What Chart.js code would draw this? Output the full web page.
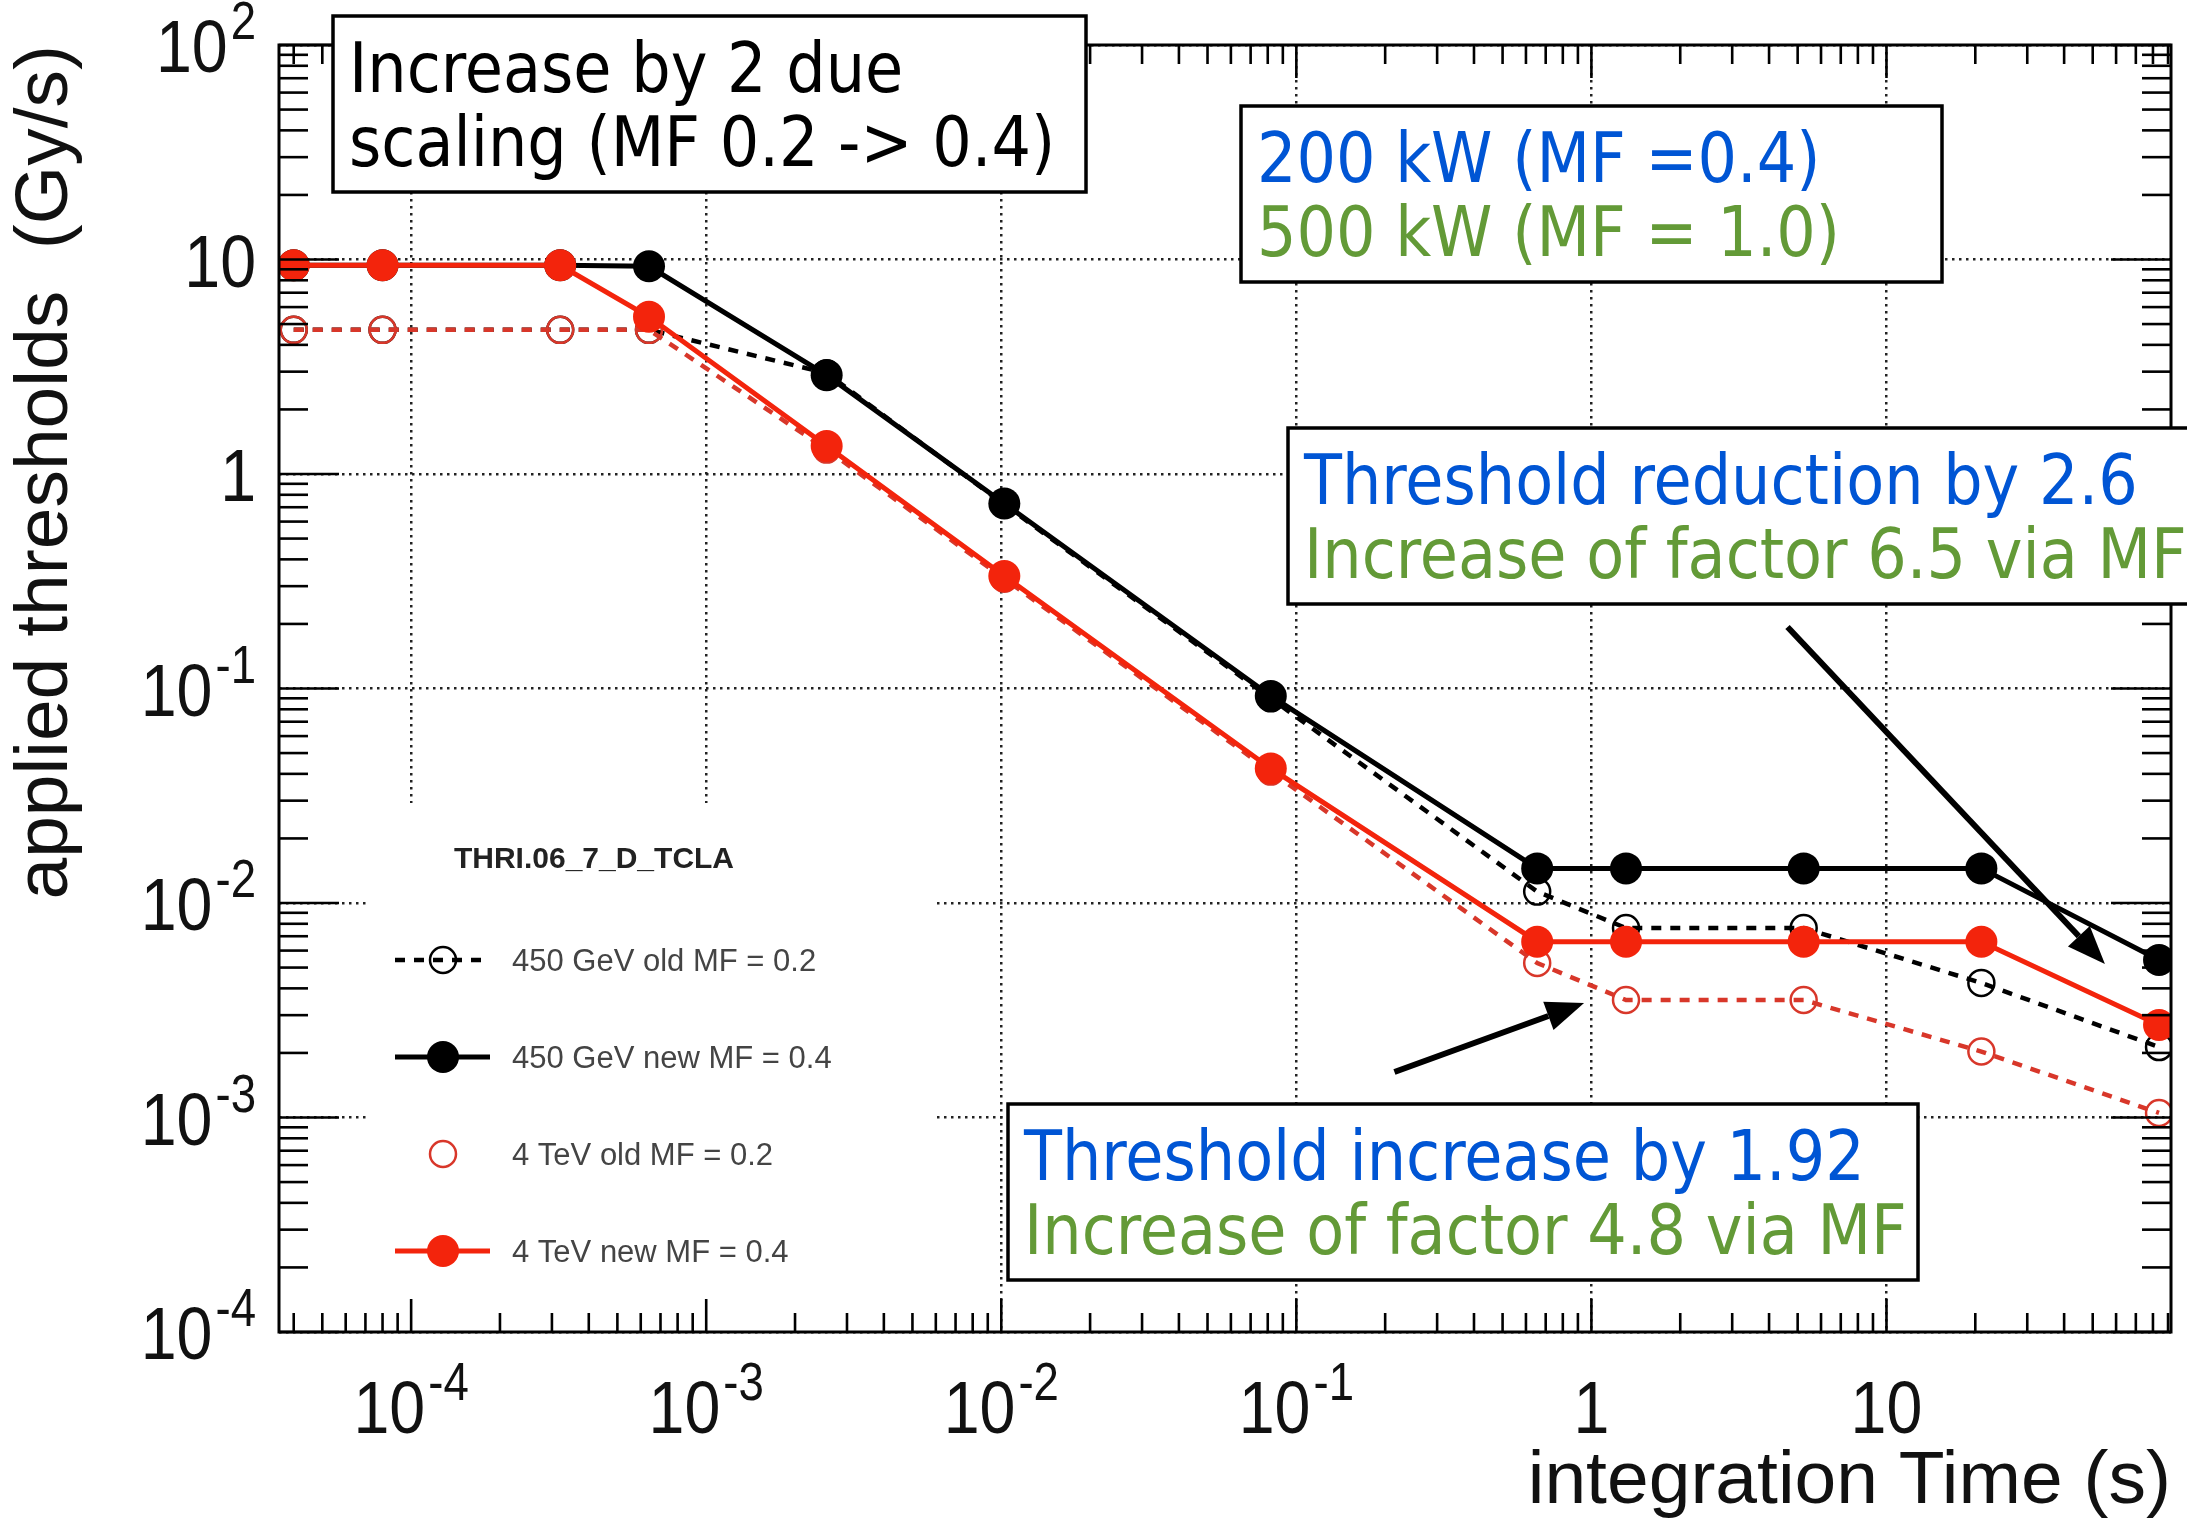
<!DOCTYPE html>
<html>
<head>
<meta charset="utf-8">
<title>THRI.06_7_D_TCLA applied thresholds</title>
<script src="https://cdn.jsdelivr.net/npm/chart.js@4.4.1/dist/chart.umd.min.js"></script>
<style>
  html, body { margin: 0; padding: 0; background: #fff; }
  #plot { display: block; }
</style>
</head>
<body>
<canvas id="plot" width="2187" height="1527"></canvas>
<script>
// running sum integration times (s)
var times = [4e-5, 8e-5, 3.2e-4, 6.4e-4, 2.56e-3, 1.024e-2, 8.192e-2, 0.655, 1.31, 5.24, 20.97, 83.89];

// thresholds in Gy/s
var lowOld  = [4.7, 4.7, 4.7, 4.7, 2.95, 0.72, 0.09, 0.0113, 0.00764, 0.00764, 0.00424, 0.00213];
var lowNew  = [9.4, 9.4, 9.4, 9.3, 2.89, 0.729, 0.0923, 0.0145, 0.0145, 0.0145, 0.0145, 0.00542];
var highOld = [4.7, 4.7, 4.7, 4.7, 1.3, 0.325, 0.041, 0.00525, 0.00353, 0.00353, 0.00203, 0.00105];
var highNew = [9.4, 9.4, 9.4, 5.41, 1.35, 0.3345, 0.0424, 0.0066, 0.0066, 0.0066, 0.0066, 0.0027];

var seriesNames = ['450 GeV old MF = 0.2', '450 GeV new MF = 0.4', '4 TeV old MF = 0.2', '4 TeV new MF = 0.4'];

// axes
var X_MIN = 3.566e-5, X_MAX = 92.1;
var Y_MIN = 1e-4, Y_MAX = 100;
var xDecades = [1e-4, 1e-3, 1e-2, 1e-1, 1, 10];
var xTickLabels = [['10', '-4'], ['10', '-3'], ['10', '-2'], ['10', '-1'], ['1', ''], ['10', '']];
var yDecades = [1e-4, 1e-3, 1e-2, 1e-1, 1, 10, 100];
var yTickLabels = [['10', '-4'], ['10', '-3'], ['10', '-2'], ['10', '-1'], ['1', ''], ['10', ''], ['10', '2']];
var minorSteps = [2, 3, 4, 5, 6, 7, 8, 9];

// arrows, in data coordinates [x1, y1, x2, y2]
var arrows = [
    [4.62, 0.1936, 55.0, 0.0052],
    [0.215, 0.00163, 0.9445, 0.00342]
];

var BLUE = '#0055d4', GREEN = '#639a37';
var boxes = [
    { x: 333, y: 16, w: 753, h: 176, lines: [['Increase by 2 due', '#000'], ['scaling (MF 0.2 -> 0.4)', '#000']] },
    { x: 1241, y: 106, w: 701, h: 176, lines: [['200 kW (MF =0.4)', BLUE], ['500 kW (MF = 1.0)', GREEN]] },
    { x: 1288, y: 428, w: 920, h: 176, lines: [['Threshold reduction by 2.6', BLUE], ['Increase of factor 6.5 via MF', GREEN]] },
    { x: 1008, y: 1104, w: 910, h: 176, lines: [['Threshold increase by 1.92', BLUE], ['Increase of factor 4.8 via MF', GREEN]] }
];

var RED = '#f3240c', RED_OLD = '#d8372a';
var NARROW = 0.86;

function pts(arr) {
    return times.map(function(t, i) { return { x: t, y: arr[i] }; });
}

function line(ctx, x1, y1, x2, y2) {
    ctx.beginPath();
    ctx.moveTo(x1, y1);
    ctx.lineTo(x2, y2);
    ctx.stroke();
}

function allTicks(min, max) {
    var out = [];
    for (var e = Math.floor(Math.log10(min)); e <= Math.ceil(Math.log10(max)); e++) {
        var d = Math.pow(10, e);
        if (d >= min && d <= max) out.push({ v: d, major: true });
        minorSteps.forEach(function(m) {
            if (m * d >= min && m * d <= max) out.push({ v: m * d, major: false });
        });
    }
    return out;
}

// "10" with a superscript, ROOT style
function drawPower(ctx, base, exp, x, y, align) {
    ctx.save();
    ctx.fillStyle = '#111';
    ctx.textAlign = 'left';
    ctx.textBaseline = 'alphabetic';
    ctx.font = '75px "Liberation Sans", Arial, sans-serif';
    var wb = ctx.measureText(base).width * NARROW;
    ctx.font = '53px "Liberation Sans", Arial, sans-serif';
    var we = exp ? ctx.measureText(exp).width * NARROW + 3 : 0;
    var total = wb + we;
    var x0 = align === 'right' ? x - total : x - total / 2;
    ctx.translate(x0, y);
    ctx.scale(NARROW, 1);
    ctx.font = '75px "Liberation Sans", Arial, sans-serif';
    ctx.fillText(base, 0, 0);
    if (exp) {
        ctx.font = '53px "Liberation Sans", Arial, sans-serif';
        ctx.fillText(exp, (wb + 3) / NARROW, -33);
    }
    ctx.restore();
}

var legendBox = { x: 368, y: 803, w: 565, h: 527 };

var rootStyle = {
    id: 'rootStyle',
    beforeDatasetsDraw: function(chart) {
        var ctx = chart.ctx;
        ctx.save();
        ctx.fillStyle = '#fff';
        ctx.fillRect(legendBox.x, legendBox.y, legendBox.w, legendBox.h);
        ctx.restore();
    },
    afterDatasetsDraw: function(chart) {
        var ctx = chart.ctx, a = chart.chartArea;
        var xs = chart.scales.x, ys = chart.scales.y;
        ctx.save();

        // frame + ticks on all four sides
        ctx.strokeStyle = '#000';
        ctx.lineWidth = 3;
        ctx.strokeRect(a.left, a.top, a.right - a.left, a.bottom - a.top);
        ctx.lineWidth = 2.6;
        allTicks(X_MIN, X_MAX).forEach(function(t) {
            var px = xs.getPixelForValue(t.v);
            var len = t.major ? 33 : 19;
            line(ctx, px, a.bottom, px, a.bottom - len);
            line(ctx, px, a.top, px, a.top + len);
        });
        allTicks(Y_MIN, Y_MAX).forEach(function(t) {
            var py = ys.getPixelForValue(t.v);
            var len = t.major ? 60 : 29;
            line(ctx, a.left, py, a.left + len, py);
            line(ctx, a.right, py, a.right - len, py);
        });

        // tick labels
        xDecades.forEach(function(v, i) {
            drawPower(ctx, xTickLabels[i][0], xTickLabels[i][1], xs.getPixelForValue(v), 1433, 'center');
        });
        yDecades.forEach(function(v, i) {
            drawPower(ctx, yTickLabels[i][0], yTickLabels[i][1], 256, ys.getPixelForValue(v) + 27, 'right');
        });

        // legend
        ctx.fillStyle = '#222';
        ctx.textAlign = 'center';
        ctx.textBaseline = 'alphabetic';
        ctx.font = 'bold 30px "Liberation Sans", Arial, sans-serif';
        ctx.fillText('THRI.06_7_D_TCLA', 594, 868);
        chart.data.datasets.forEach(function(ds, i) {
            var cy = 960 + i * 97;
            ctx.save();
            if (ds.legendLine !== false) {
                ctx.strokeStyle = ds.borderColor;
                ctx.lineWidth = ds.borderWidth;
                ctx.setLineDash(ds.borderDash || []);
                line(ctx, 395, cy, 490, cy);
            }
            ctx.setLineDash([]);
            ctx.beginPath();
            ctx.arc(443, cy, ds.pointRadius, 0, Math.PI * 2);
            if (ds.pointBackgroundColor !== 'rgba(0,0,0,0)') {
                ctx.fillStyle = ds.pointBackgroundColor;
                ctx.fill();
            } else {
                ctx.strokeStyle = ds.pointBorderColor;
                ctx.lineWidth = ds.pointBorderWidth;
                ctx.stroke();
            }
            ctx.restore();
            ctx.fillStyle = '#444';
            ctx.textAlign = 'left';
            ctx.font = '31px "Liberation Sans", Arial, sans-serif';
            ctx.fillText(ds.label, 512, cy + 11);
        });

        // arrows
        ctx.strokeStyle = '#000';
        ctx.fillStyle = '#000';
        ctx.lineWidth = 6;
        arrows.forEach(function(ar) {
            var x1 = xs.getPixelForValue(ar[0]), y1 = ys.getPixelForValue(ar[1]);
            var x2 = xs.getPixelForValue(ar[2]), y2 = ys.getPixelForValue(ar[3]);
            var ang = Math.atan2(y2 - y1, x2 - x1);
            var hl = 38, hw = 15;
            var bx = x2 - hl * Math.cos(ang), by = y2 - hl * Math.sin(ang);
            line(ctx, x1, y1, bx, by);
            ctx.beginPath();
            ctx.moveTo(x2, y2);
            ctx.lineTo(bx + hw * Math.sin(ang), by - hw * Math.cos(ang));
            ctx.lineTo(bx - hw * Math.sin(ang), by + hw * Math.cos(ang));
            ctx.closePath();
            ctx.fill();
        });

        // text boxes
        boxes.forEach(function(b) {
            ctx.fillStyle = '#fff';
            ctx.fillRect(b.x, b.y, b.w, b.h);
            ctx.strokeStyle = '#000';
            ctx.lineWidth = 3.5;
            ctx.strokeRect(b.x, b.y, b.w, b.h);
            ctx.font = '69px "DejaVu Sans Condensed", "DejaVu Sans", sans-serif';
            if ('fontStretch' in ctx) ctx.fontStretch = 'condensed';
            ctx.textAlign = 'left';
            b.lines.forEach(function(l, k) {
                ctx.fillStyle = l[1];
                ctx.fillText(l[0], b.x + 16, b.y + 76 + k * 74);
            });
            if ('fontStretch' in ctx) ctx.fontStretch = 'normal';
        });
        ctx.restore();
    }
};

var titleFont = { family: '"Liberation Sans", Arial, sans-serif', size: 75, weight: 'normal' };

new Chart(document.getElementById('plot'), {
    type: 'line',
    data: {
        datasets: [{
            label: seriesNames[0],
            data: pts(lowOld),
            borderColor: '#000',
            borderWidth: 4.5,
            borderDash: [10, 9],
            pointRadius: 13,
            pointBorderWidth: 2.5,
            pointBorderColor: '#000',
            pointBackgroundColor: 'rgba(0,0,0,0)',
            order: 4,
            clip: 0
        }, {
            label: seriesNames[1],
            data: pts(lowNew),
            borderColor: '#000',
            borderWidth: 5,
            pointRadius: 16,
            pointBorderWidth: 0,
            pointBorderColor: '#000',
            pointBackgroundColor: '#000',
            order: 3,
            clip: 0
        }, {
            label: seriesNames[2],
            data: pts(highOld),
            borderColor: RED_OLD,
            borderWidth: 4.5,
            borderDash: [10, 9],
            pointRadius: 13,
            pointBorderWidth: 2.5,
            pointBorderColor: RED_OLD,
            pointBackgroundColor: 'rgba(0,0,0,0)',
            legendLine: false,
            order: 2,
            clip: 0
        }, {
            label: seriesNames[3],
            data: pts(highNew),
            borderColor: RED,
            borderWidth: 5,
            pointRadius: 16,
            pointBorderWidth: 0,
            pointBorderColor: RED,
            pointBackgroundColor: RED,
            order: 1,
            clip: 0
        }]
    },
    options: {
        responsive: false,
        animation: false,
        events: [],
        layout: { padding: { left: 0, top: 45, right: 12, bottom: 0 } },
        plugins: {
            legend: { display: false },
            tooltip: { enabled: false }
        },
        scales: {
            x: {
                type: 'logarithmic',
                min: X_MIN,
                max: X_MAX,
                bounds: 'data',
                afterFit: function(s) { s.height = 195; },
                afterBuildTicks: function(s) {
                    s.ticks = xDecades.map(function(v) { return { value: v }; });
                },
                ticks: { display: false, autoSkip: false },
                grid: { color: '#222', lineWidth: 2.5, drawTicks: false },
                border: { display: false, dash: [2.5, 4.5] },
                title: {
                    display: true,
                    text: 'integration Time (s)',
                    align: 'end',
                    color: '#111',
                    font: titleFont,
                    padding: { top: 0, bottom: 0 }
                }
            },
            y: {
                type: 'logarithmic',
                min: Y_MIN,
                max: Y_MAX,
                bounds: 'data',
                afterFit: function(s) { s.width = 279; },
                afterBuildTicks: function(s) {
                    s.ticks = yDecades.map(function(v) { return { value: v }; });
                },
                ticks: { display: false, autoSkip: false },
                grid: { color: '#222', lineWidth: 2.5, drawTicks: false },
                border: { display: false, dash: [2.5, 4.5] },
                title: {
                    display: true,
                    text: 'applied thresholds  (Gy/s)',
                    align: 'end',
                    color: '#111',
                    font: titleFont,
                    padding: { top: 1, bottom: 0 }
                }
            }
        }
    },
    plugins: [rootStyle]
});
</script>
</body>
</html>
